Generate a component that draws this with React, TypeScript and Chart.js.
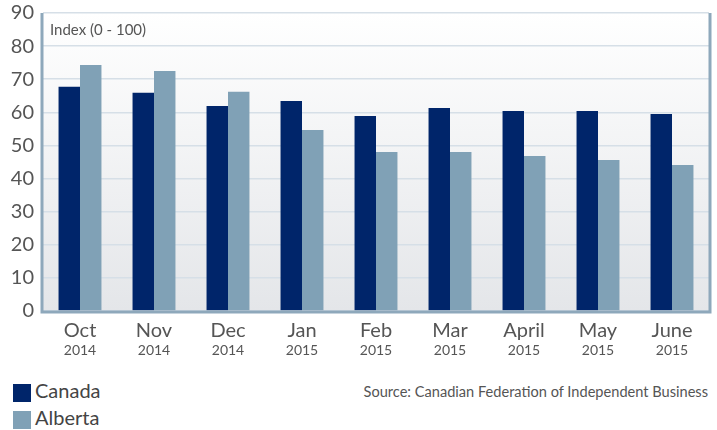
import React, { useEffect, useRef } from "react";
import { Chart, registerables } from "chart.js";

Chart.register(...registerables);

const months = ["Oct", "Nov", "Dec", "Jan", "Feb", "Mar", "April", "May", "June"];
const years = ["2014", "2014", "2014", "2015", "2015", "2015", "2015", "2015", "2015"];
const canada = [67.7, 65.9, 61.9, 63.4, 58.9, 61.3, 60.4, 60.4, 59.5];
const alberta = [74.3, 72.5, 66.2, 54.7, 48.0, 48.0, 46.8, 45.6, 44.1];
const yMin = 0;
const yMax = 90;
const yStep = 10;

const CANADA = "#00256a";
const ALBERTA = "#80a1b6";
const FRAME = "#8ea8bb";
const FONT = "Lato, 'Open Sans', sans-serif";

const bgPlugin = {
  id: "bgPlugin",
  beforeDraw(chart: any) {
    const { ctx, chartArea } = chart;
    const g = ctx.createLinearGradient(0, chartArea.top, 0, chartArea.bottom);
    g.addColorStop(0, "#ffffff");
    g.addColorStop(1, "#e4e6e9");
    ctx.save();
    ctx.fillStyle = g;
    ctx.fillRect(chartArea.left, chartArea.top, chartArea.right - chartArea.left, chartArea.bottom - chartArea.top);
    ctx.restore();
  },
  afterDraw(chart: any) {
    const { ctx, chartArea } = chart;
    ctx.save();
    ctx.strokeStyle = FRAME;
    ctx.lineWidth = 3;
    ctx.beginPath();
    ctx.moveTo(chartArea.left - 1, chartArea.top);
    ctx.lineTo(chartArea.left - 1, chartArea.bottom + 1);
    ctx.lineTo(chartArea.right + 1, chartArea.bottom + 1);
    ctx.lineTo(chartArea.right + 1, chartArea.top);
    ctx.stroke();
    ctx.restore();
  },
};

export default function App() {
  const ref = useRef<HTMLCanvasElement>(null);
  useEffect(() => {
    if (!ref.current) return;
    const chart = new Chart(ref.current, {
      type: "bar",
      data: {
        labels: months,
        datasets: [
          { label: "Canada", data: canada, backgroundColor: CANADA, categoryPercentage: 0.58, barPercentage: 1 },
          { label: "Alberta", data: alberta, backgroundColor: ALBERTA, categoryPercentage: 0.58, barPercentage: 1 },
        ],
      },
      options: {
        responsive: false,
        animation: false,
        layout: { padding: { top: 13, right: 8, left: 0, bottom: 0 } },
        plugins: { legend: { display: false }, tooltip: { enabled: false } },
        scales: {
          x: {
            offset: true,
            grid: { display: false, drawTicks: false },
            border: { display: false },
            ticks: { color: "#555", font: { family: FONT, size: 20 }, padding: 8, maxRotation: 0, autoSkip: false },
            afterFit: (s: any) => { s.height = 30; },
          },
          x2: {
            type: "category",
            position: "bottom",
            labels: years,
            offset: true,
            grid: { display: false, drawTicks: false },
            border: { display: false },
            ticks: { color: "#555", font: { family: FONT, size: 14 }, padding: 1, maxRotation: 0, autoSkip: false },
            afterFit: (s: any) => { s.height = 21; },
          },
          y: {
            min: yMin,
            max: yMax,
            ticks: { stepSize: yStep, color: "#555", font: { family: FONT, size: 20 }, padding: 9 },
            grid: { color: "#d6dfe7", lineWidth: 1.5, drawTicks: false },
            border: { display: false },
            afterFit: (s: any) => { s.width = 43; s.paddingTop = 0; s.paddingBottom = 0; },
          },
        },
      },
      plugins: [bgPlugin],
    });
    return () => chart.destroy();
  }, []);

  return (
    <div style={{ position: "fixed", left: 0, top: 0, width: 717, height: 430, background: "#fff", overflow: "hidden", fontFamily: FONT }}>
      <canvas ref={ref} width={717} height={362} style={{ position: "absolute", left: 0, top: 0 }} />
      <div style={{ position: "absolute", left: 50, top: 20, fontSize: 15, color: "#555" }}>Index (0 - 100)</div>
      <div style={{ position: "absolute", left: 13, top: 384, width: 18, height: 18, background: CANADA }} />
      <div style={{ position: "absolute", left: 35, top: 378, fontSize: 20, color: "#444" }}>Canada</div>
      <div style={{ position: "absolute", left: 13, top: 411, width: 18, height: 18, background: ALBERTA }} />
      <div style={{ position: "absolute", left: 35, top: 405, fontSize: 20, color: "#444" }}>Alberta</div>
      <div style={{ position: "absolute", right: 9, top: 383, fontSize: 14.6, color: "#555" }}>Source: Canadian Federation of Independent Business</div>
    </div>
  );
}
